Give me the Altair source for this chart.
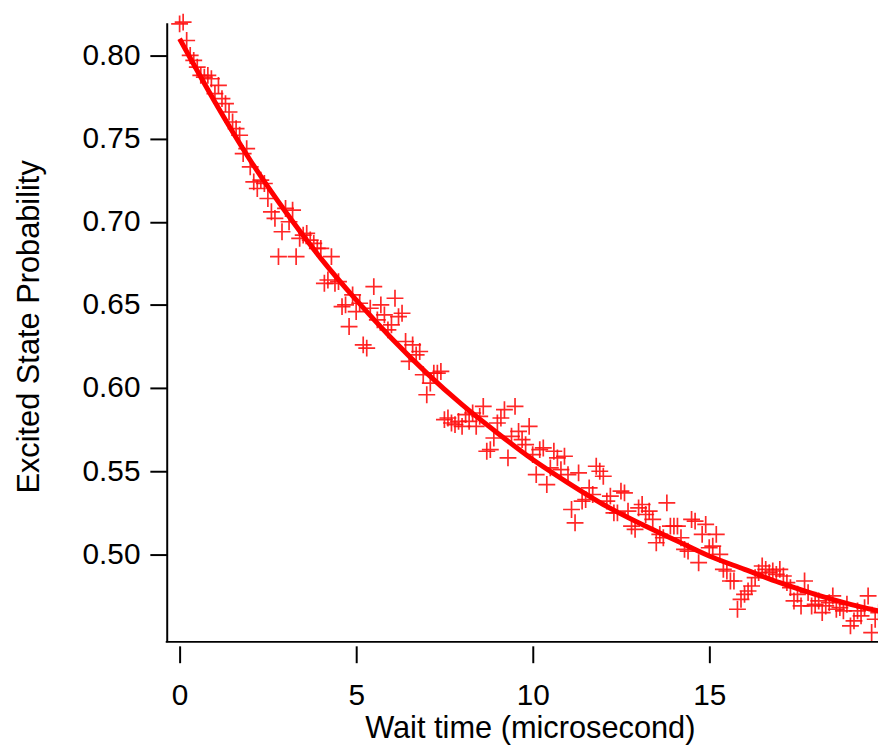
import altair as alt
import pandas as pd

# ---- data ----
wait_time = [round(0.1 * i, 1) for i in range(199)]  # 0.0 ... 19.8 microseconds

prob = (
    # 0.0 - 0.9
    [0.819, 0.820, 0.809, 0.800, 0.797, 0.793, 0.788, 0.787, 0.788, 0.786]
    # 1.0 - 1.9
    + [0.777, 0.782, 0.774, 0.771, 0.766, 0.760, 0.756, 0.752, 0.741, 0.744]
    # 2.0 - 2.9
    + [0.733, 0.724, 0.720, 0.725, 0.723, 0.714, 0.706, 0.702, 0.679, 0.694]
    # 3.0 - 3.9
    + [0.708, 0.700, 0.707, 0.679, 0.690, 0.692, 0.693, 0.689, 0.687, 0.684]
    # 4.0 - 4.9
    + [0.684, 0.663, 0.665, 0.679, 0.663, 0.664, 0.649, 0.650, 0.637, 0.656]
    # 5.0 - 5.9
    + [0.646, 0.651, 0.626, 0.624, 0.648, 0.661, 0.641, 0.650, 0.644, 0.635]
    # 6.0 - 6.9
    + [0.638, 0.654, 0.643, 0.645, 0.628, 0.616, 0.626, 0.620, 0.622, 0.608]
    # 7.0 - 7.9
    + [0.596, 0.603, 0.609, 0.609, 0.610, 0.581, 0.582, 0.579, 0.578, 0.580]
    # 8.0 - 8.9
    + [0.577, 0.584, 0.580, 0.585, 0.577, 0.583, 0.589, 0.562, 0.563, 0.570]
    # 9.0 - 9.9
    + [0.579, 0.582, 0.587, 0.558, 0.571, 0.589, 0.574, 0.569, 0.566, 0.577]
    # 10.0 - 10.9
    + [0.560, 0.548, 0.563, 0.564, 0.542, 0.552, 0.562, 0.558, 0.551, 0.559]
    # 11.0 - 11.9
    + [0.548, 0.527, 0.519, 0.549, 0.532, 0.533, 0.540, 0.536, 0.553, 0.550]
    # 12.0 - 12.9
    + [0.547, 0.532, 0.535, 0.525, 0.525, 0.538, 0.537, 0.526, 0.517, 0.515]
    # 13.0 - 13.9
    + [0.528, 0.530, 0.524, 0.526, 0.521, 0.507, 0.512, 0.510, 0.531, 0.517]
    # 14.0 - 14.9
    + [0.517, 0.517, 0.510, 0.503, 0.502, 0.521, 0.520, 0.495, 0.512, 0.518]
    # 15.0 - 15.9
    + [0.504, 0.505, 0.512, 0.500, 0.491, 0.490, 0.484, 0.484, 0.467, 0.473]
    # 16.0 - 16.9
    + [0.476, 0.478, 0.481, 0.486, 0.489, 0.493, 0.491, 0.489, 0.490, 0.488]
    # 17.0 - 17.9
    + [0.491, 0.487, 0.483, 0.480, 0.472, 0.476, 0.469, 0.484, 0.477, 0.469]
    # 18.0 - 18.9
    + [0.470, 0.472, 0.465, 0.469, 0.471, 0.475, 0.467, 0.468, 0.466, 0.470]
    # 19.0 - 19.8
    + [0.457, 0.460, 0.466, 0.463, 0.468, 0.475, 0.453, 0.461, 0.465]
)

# fitted decay curve
fit_time = [0, 1, 2, 3, 4, 5, 6, 7, 8, 9, 10, 11, 12, 13, 14, 15, 16, 17, 18, 19, 19.8]
fit_prob = [0.810, 0.772, 0.737, 0.706, 0.678, 0.653, 0.630, 0.609, 0.590, 0.573,
            0.557, 0.543, 0.530, 0.519, 0.509, 0.499, 0.491, 0.483, 0.476, 0.470, 0.466]

x_ticks = [0, 5, 10, 15]
y_ticks = [0.50, 0.55, 0.60, 0.65, 0.70, 0.75, 0.80]

df = pd.DataFrame({"t": wait_time, "p": prob})
df_fit = pd.DataFrame({"t": fit_time, "p": fit_prob})

W, H = 717, 624
FONT = "Liberation Sans"

xscale = alt.Scale(domain=[-0.365, 19.78], nice=False, zero=False)
yscale = alt.Scale(domain=[0.4474, 0.8196], nice=False, zero=False)

yaxis = alt.Axis(
    values=y_ticks, format=".2f", grid=False,
    domainColor="black", domainWidth=2, tickColor="black", tickWidth=2, tickSize=17,
    labelFontSize=30, labelColor="black", labelPadding=10, labelFont=FONT,
    title="Excited State Probability", titleFontSize=31, titleFontWeight="normal",
    titleColor="black", titleFont=FONT, titleAngle=270, titleX=-138, titleY=306,
    titleAlign="center", titleBaseline="middle",
)

xaxis = alt.Axis(
    orient="bottom", values=x_ticks, format="d", grid=False, domain=False, offset=4,
    tickColor="black", tickWidth=2, tickSize=17,
    labelFontSize=30, labelColor="black", labelPadding=18, labelFont=FONT,
    title="Wait time (microsecond)", titleFontSize=31, titleFontWeight="normal",
    titleColor="black", titleFont=FONT, titleX=366, titleY=92,
    titleAlign="center", titleBaseline="alphabetic",
)

pts = alt.Chart(df).mark_point(
    shape="M-1,0H1M0,-1V1", filled=False, size=289,
    stroke="#ff1010", strokeWidth=1.7, opacity=0.9, clip=False,
).encode(
    x=alt.X("t:Q", scale=xscale, axis=xaxis),
    y=alt.Y("p:Q", scale=yscale, axis=yaxis),
)

fit = alt.Chart(df_fit).mark_line(
    color="#ff0000", strokeWidth=5, interpolate="monotone", clip=True,
).encode(
    x=alt.X("t:Q", scale=xscale, axis=xaxis),
    y=alt.Y("p:Q", scale=yscale, axis=yaxis),
)

# bottom axis line of the frame (Igor style: ticks stand off from it)
frame = alt.Chart(pd.DataFrame({"k": [0]})).mark_rule(
    color="black", strokeWidth=2,
).encode(x=alt.value(-1), x2=alt.value(W), y=alt.value(H))

chart = (
    alt.layer(pts, fit, frame)
    .properties(
        width=W, height=H,
        padding={"left": 160, "top": 12, "right": 0, "bottom": 102},
        autosize=alt.AutoSizeParams(type="none"),
        background="white",
    )
    .configure(font=FONT)
    .configure_view(strokeWidth=0)
)

chart.save("out.html", embed_options={"renderer": "svg", "actions": False})
